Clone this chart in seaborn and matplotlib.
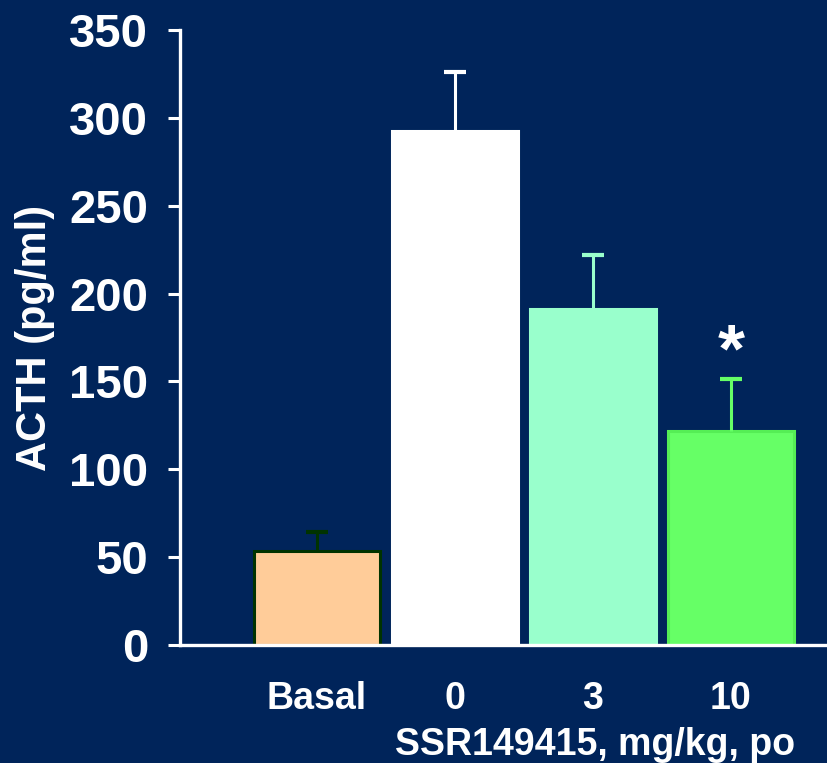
import matplotlib
matplotlib.use("Agg")
import matplotlib.pyplot as plt
import seaborn as sns
import pandas as pd

categories = ["Basal", "0", "3", "10"]
acth_mean = [53.5, 292.5, 191, 122]
acth_sem = [11, 33.5, 31, 29.5]
bar_colors = ["#FFCC99", "#FFFFFF", "#99FFCC", "#66FF66"]
edge_colors = ["#003300", "#FFFFFF", "#99FFCC", "#55EE55"]
err_colors = ["#003300", "#FFFFFF", "#99FFCC", "#66FF66"]
yticks = [0, 50, 100, 150, 200, 250, 300, 350]
star_label = "*"
star_value = 166
xlabel = "SSR149415, mg/kg, po"
ylabel = "ACTH (pg/ml)"

BG = "#00245A"
sns.set_theme(style="white")
plt.rcParams["font.family"] = ["Liberation Sans", "DejaVu Sans"]

df = pd.DataFrame({"group": categories, "acth": acth_mean})

fig = plt.figure(figsize=(8.27, 7.63), dpi=100, facecolor=BG)
ax = fig.add_axes([180/827, (763-645)/763, 1 - 180/827, (645-30)/763])
ax.set_facecolor(BG)

sns.barplot(data=df, x="group", y="acth", order=categories, hue="group",
            palette=bar_colors, legend=False, width=0.913, ax=ax,
            linewidth=2.2, saturation=1)
for patch, ec in zip(ax.patches, edge_colors):
    patch.set_edgecolor(ec)

cap_half = 0.078
for i, (m, s, c) in enumerate(zip(acth_mean, acth_sem, err_colors)):
    ax.vlines(i, m, m + s, colors=c, linewidth=2.2, zorder=3)
    ax.hlines(m + s, i - cap_half, i + cap_half, colors=c, linewidth=3, zorder=3)

ax.text(3, star_value, star_label, color="white", fontsize=50, fontweight="bold",
        ha="center", va="center")

ax.set_xlim(-0.993, 3.696)
ax.set_ylim(0, 350)
ax.set_yticks(yticks)
ax.set_yticklabels([str(v) for v in yticks], fontsize=34, fontweight="bold")
ax.set_xticks(range(len(categories)))
ax.set_xticklabels(categories, fontsize=27, fontweight="bold")
ax.tick_params(axis="y", colors="white", left=True, length=9, width=2.2, pad=14,
               direction="out")
ax.tick_params(axis="x", colors="white", length=0, pad=26)
for lab in ax.get_yticklabels() + ax.get_xticklabels():
    lab.set_color("white")

for side in ["top", "right"]:
    ax.spines[side].set_visible(False)
for side in ["left", "bottom"]:
    ax.spines[side].set_color("white")
    ax.spines[side].set_linewidth(2.4)
ax.spines["bottom"].set_zorder(5)

ax.set_xlabel("")
ax.set_ylabel(ylabel, color="white", fontsize=30, fontweight="bold", labelpad=10)
fig.text(795/827, (763-745)/763, xlabel, color="white", fontsize=27,
         fontweight="bold", ha="right", va="center")

fig.savefig("out.png", dpi=100, facecolor=BG)
